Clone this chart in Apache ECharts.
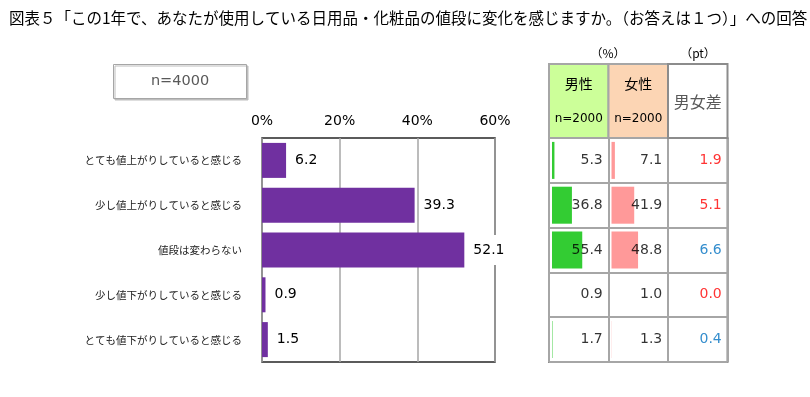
<!DOCTYPE html>
<html>
<head>
<meta charset="utf-8">
<script src="https://cdn.jsdelivr.net/npm/echarts@6/dist/echarts.min.js"></script>
<style>
  html, body { margin: 0; padding: 0; background: #fff; }
  #chart { width: 810px; height: 397px; }
</style>
</head>
<body>
<div id="chart"></div>
<script>
const titleText = '図表５「この1年で、あなたが使用している日用品・化粧品の値段に変化を感じますか。（お答えは１つ）」への回答';
const categories = [
  'とても値上がりしていると感じる',
  '少し値上がりしていると感じる',
  '値段は変わらない',
  '少し値下がりしていると感じる',
  'とても値下がりしていると感じる'
];
const totalValues = [6.2, 39.3, 52.1, 0.9, 1.5];
const maleValues = [5.3, 36.8, 55.4, 0.9, 1.7];
const femaleValues = [7.1, 41.9, 48.8, 1.0, 1.3];
const diffValues = [1.9, 5.1, 6.6, 0.0, 0.4];
const tableColumns = ['男性', '女性', '男女差'];
const sampleLabels = ['n=2000', 'n=2000'];
const totalSample = 'n=4000';

const JP = '"Noto Sans CJK JP", sans-serif';
const NUM = '"DejaVu Sans", "Noto Sans CJK JP", sans-serif';

// table layout
const rowTop = 138, rowH = 224;
const tblLeft = 549, colW = 59.5, hdrTop = 64;

function cellLabels(values, col, colorFn) {
  return values.map((v, i) => ({
    value: [col, i],
    label: {
      formatter: v.toFixed(1),
      color: colorFn ? colorFn(i) : '#000'
    }
  }));
}

const diffColor = i => femaleValues[i] >= maleValues[i] ? '#ff0000' : '#0070c0';

const chart = echarts.init(document.getElementById('chart'));
chart.setOption({
  animation: false,
  title: {
    text: titleText,
    left: 4,
    top: 5,
    textStyle: { fontFamily: JP, fontSize: 15.5, fontWeight: 'normal', color: '#000' }
  },
  grid: [
    { left: 262, top: rowTop, width: 233, height: rowH, show: true, borderColor: '#262626', borderWidth: 1.5 },
    { left: tblLeft, top: rowTop, width: colW * 3, height: rowH, show: true, borderColor: '#8c8c8c', borderWidth: 2 },
    { left: tblLeft + 3, top: rowTop, width: 55, height: rowH },
    { left: tblLeft + colW + 3, top: rowTop, width: 55, height: rowH }
  ],
  xAxis: [
    {
      gridIndex: 0, type: 'value', position: 'top', min: 0, max: 60, interval: 20,
      axisLine: { show: false }, axisTick: { show: false },
      axisLabel: { formatter: '{value}%', fontFamily: NUM, fontSize: 14, color: '#000', margin: 10 },
      splitLine: { show: true, lineStyle: { color: '#a6a6a6', width: 1.5 } }
    },
    {
      gridIndex: 1, type: 'category', data: tableColumns, show: true,
      axisLine: { show: false }, axisTick: { show: false }, axisLabel: { show: false },
      splitLine: { show: true, interval: 0, lineStyle: { color: '#a6a6a6', width: 2 } }
    },
    { gridIndex: 2, type: 'value', min: Math.min(...maleValues), max: 100, show: false },
    { gridIndex: 3, type: 'value', min: Math.min(...femaleValues), max: 100, show: false }
  ],
  yAxis: [
    {
      gridIndex: 0, type: 'category', data: categories, inverse: true,
      axisLine: { show: false }, axisTick: { show: false },
      axisLabel: { fontFamily: JP, fontSize: 10.5, color: '#222', margin: 20 }
    },
    {
      gridIndex: 1, type: 'category', data: categories, inverse: true,
      axisLine: { show: false }, axisTick: { show: false }, axisLabel: { show: false },
      splitLine: { show: true, interval: 0, lineStyle: { color: '#a6a6a6', width: 2 } }
    },
    { gridIndex: 2, type: 'category', data: categories, inverse: true, show: false },
    { gridIndex: 3, type: 'category', data: categories, inverse: true, show: false }
  ],
  series: [
    {
      type: 'bar', xAxisIndex: 0, yAxisIndex: 0, data: totalValues, barWidth: 35,
      itemStyle: { color: '#7030a0' },
      label: {
        show: true, position: 'right', distance: 7, formatter: p => p.value.toFixed(1),
        fontFamily: NUM, fontSize: 14, color: '#000',
        backgroundColor: '#fff', padding: [8, 2]
      }
    },
    {
      type: 'bar', xAxisIndex: 2, yAxisIndex: 2, data: maleValues, barWidth: 37,
      itemStyle: { color: '#33cc33' }
    },
    {
      type: 'bar', xAxisIndex: 3, yAxisIndex: 3, data: femaleValues, barWidth: 37,
      itemStyle: { color: '#ff9999' }
    },
    {
      type: 'scatter', xAxisIndex: 1, yAxisIndex: 1, symbolSize: 0, z: 5,
      label: { show: true, position: 'inside', align: 'right', offset: [24, 0], fontFamily: NUM, fontSize: 14 },
      data: cellLabels(maleValues, 0).concat(cellLabels(femaleValues, 1), cellLabels(diffValues, 2, diffColor))
    }
  ],
  graphic: [
    // n=4000 box
    {
      type: 'rect', x: 113.5, y: 64.5, z: 10,
      shape: { width: 133, height: 34 },
      style: { fill: '#fff', stroke: '#a6a6a6', lineWidth: 1, shadowOffsetX: 1.5, shadowOffsetY: 1.5, shadowColor: '#bdbdbd' }
    },
    {
      type: 'text', x: 180, y: 81, z: 11,
      style: { text: totalSample, fontFamily: NUM, fontSize: 14.5, fill: '#595959', align: 'center', verticalAlign: 'middle' }
    },
    // table header
    {
      type: 'rect', x: tblLeft, y: hdrTop, z: 10,
      shape: { width: colW, height: rowTop - hdrTop },
      style: { fill: '#ccff99', stroke: '#a6a6a6', lineWidth: 2 }
    },
    {
      type: 'rect', x: tblLeft + colW, y: hdrTop, z: 10,
      shape: { width: colW, height: rowTop - hdrTop },
      style: { fill: '#fcd5b4', stroke: '#a6a6a6', lineWidth: 2 }
    },
    {
      type: 'rect', x: tblLeft + colW * 2, y: hdrTop, z: 10,
      shape: { width: colW, height: rowTop - hdrTop },
      style: { fill: '#fff', stroke: '#8c8c8c', lineWidth: 2 }
    },
    {
      type: 'text', x: tblLeft + colW / 2, y: 84, z: 11,
      style: { text: tableColumns[0], fontFamily: JP, fontSize: 14, fill: '#000', align: 'center', verticalAlign: 'middle' }
    },
    {
      type: 'text', x: tblLeft + colW / 2, y: 119, z: 11,
      style: { text: sampleLabels[0], fontFamily: NUM, fontSize: 12, fill: '#000', align: 'center', verticalAlign: 'middle' }
    },
    {
      type: 'text', x: tblLeft + colW * 1.5, y: 84, z: 11,
      style: { text: tableColumns[1], fontFamily: JP, fontSize: 14, fill: '#000', align: 'center', verticalAlign: 'middle' }
    },
    {
      type: 'text', x: tblLeft + colW * 1.5, y: 119, z: 11,
      style: { text: sampleLabels[1], fontFamily: NUM, fontSize: 12, fill: '#000', align: 'center', verticalAlign: 'middle' }
    },
    {
      type: 'text', x: tblLeft + colW * 2.5, y: 102, z: 11,
      style: { text: tableColumns[2], fontFamily: JP, fontSize: 16, fill: '#595959', align: 'center', verticalAlign: 'middle' }
    },
    {
      type: 'text', x: 608, y: 53, z: 11,
      style: { text: '（%）', fontFamily: JP, fontSize: 12, fill: '#000', align: 'center', verticalAlign: 'middle' }
    },
    {
      type: 'text', x: 698, y: 53, z: 11,
      style: { text: '（pt）', fontFamily: JP, fontSize: 12, fill: '#000', align: 'center', verticalAlign: 'middle' }
    }
  ]
});
</script>
</body>
</html>
